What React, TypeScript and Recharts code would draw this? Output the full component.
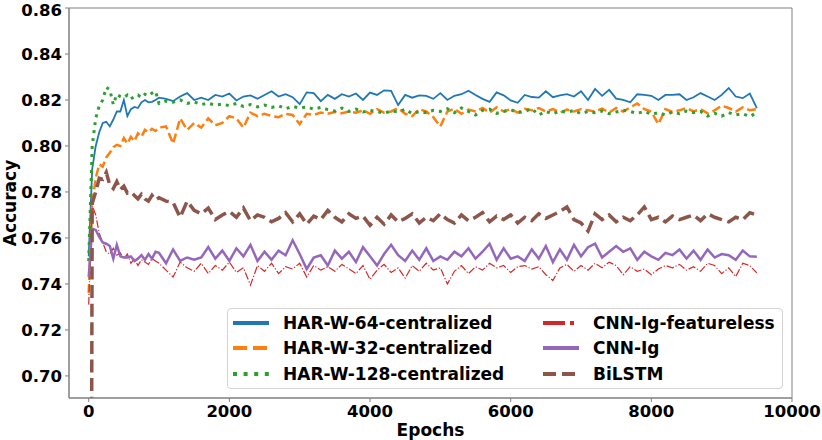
import { LineChart, Line, XAxis, YAxis, Legend, ReferenceArea, Label } from "recharts"

const epochs = [
  0, 50, 100, 150, 200, 250, 300, 350, 400, 450, 500, 550, 600, 650, 700, 750, 800, 850, 900, 950, 1000,
  1100, 1200, 1300, 1400, 1500, 1600, 1700, 1800, 1900, 2000,
  2100, 2200, 2300, 2400, 2500, 2600, 2700, 2800, 2900, 3000,
  3100, 3200, 3300, 3400, 3500, 3600, 3700, 3800, 3900, 4000,
  4100, 4200, 4300, 4400, 4500, 4600, 4700, 4800, 4900, 5000,
  5100, 5200, 5300, 5400, 5500, 5600, 5700, 5800, 5900, 6000,
  6100, 6200, 6300, 6400, 6500, 6600, 6700, 6800, 6900, 7000,
  7100, 7200, 7300, 7400, 7500, 7600, 7700, 7800, 7900, 8000,
  8100, 8200, 8300, 8400, 8500, 8600, 8700, 8800, 8900, 9000,
  9100, 9200, 9300, 9400, 9500,
]

const har64 = [
  0.752, 0.79, 0.8, 0.806, 0.81, 0.8105, 0.8085, 0.8115, 0.815, 0.815, 0.82, 0.813, 0.816, 0.817, 0.8165, 0.819, 0.82, 0.819, 0.8192, 0.82, 0.821,
  0.8205, 0.8195, 0.8215, 0.823, 0.82, 0.821, 0.82, 0.8222, 0.8215, 0.8228,
  0.8198, 0.8215, 0.822, 0.8205, 0.8222, 0.8238, 0.8215, 0.8225, 0.8212, 0.8182,
  0.8233, 0.823, 0.8195, 0.8222, 0.8205, 0.8225, 0.8215, 0.8228, 0.82, 0.8232,
  0.8222, 0.8242, 0.824, 0.8178, 0.8222, 0.821, 0.822, 0.8218, 0.8205, 0.823,
  0.82, 0.8218, 0.8225, 0.824, 0.8222, 0.8205, 0.8192, 0.8233, 0.822, 0.8198,
  0.8188, 0.8222, 0.8213, 0.821, 0.8238, 0.8212, 0.822, 0.8225, 0.8215, 0.8238,
  0.82, 0.8248, 0.8218, 0.8244, 0.8206, 0.82, 0.819, 0.8225, 0.8222, 0.8218,
  0.82, 0.8222, 0.8222, 0.8225, 0.82, 0.8212, 0.823, 0.8215, 0.82, 0.8222,
  0.8252, 0.8215, 0.8208, 0.8228, 0.8165,
]

const har32 = [
  0.736, 0.775, 0.786, 0.792, 0.791, 0.795, 0.797, 0.7995, 0.8005, 0.8, 0.8035, 0.801, 0.804, 0.802, 0.8055, 0.804, 0.807, 0.806, 0.8075, 0.8065, 0.808,
  0.8085, 0.801, 0.812, 0.807, 0.81, 0.808, 0.812, 0.809, 0.81, 0.813,
  0.812, 0.808, 0.8145, 0.813, 0.814, 0.813, 0.8125, 0.814, 0.8135, 0.8095,
  0.814, 0.8135, 0.8145, 0.814, 0.8148, 0.8142, 0.815, 0.8145, 0.8155, 0.814,
  0.816, 0.8145, 0.815, 0.8165, 0.814, 0.813, 0.816, 0.815, 0.8125, 0.8085,
  0.815, 0.8162, 0.814, 0.8158, 0.815, 0.8165, 0.8145, 0.8168, 0.815, 0.816,
  0.8145, 0.8162, 0.8155, 0.8165, 0.815, 0.816, 0.8145, 0.8158, 0.815, 0.816,
  0.8155, 0.815, 0.8162, 0.8145, 0.8165, 0.815, 0.8168, 0.8185, 0.816, 0.815,
  0.8095, 0.816, 0.8148, 0.8155, 0.8165, 0.815, 0.816, 0.8142, 0.8155, 0.8175,
  0.8165, 0.815, 0.8168, 0.8155, 0.816,
]

const har128 = [
  0.75, 0.8, 0.812, 0.8175, 0.82, 0.8255, 0.8245, 0.818, 0.8225, 0.8215, 0.821, 0.8222, 0.8205, 0.8215, 0.8222, 0.821, 0.8225, 0.8218, 0.823, 0.8238, 0.8185,
  0.8195, 0.819, 0.82, 0.8185, 0.8192, 0.818, 0.8186, 0.8178, 0.8182, 0.8175,
  0.8185, 0.8172, 0.818, 0.817, 0.8178, 0.8168, 0.8175, 0.8162, 0.8172, 0.8165,
  0.817, 0.816, 0.8168, 0.8158, 0.8152, 0.8165, 0.815, 0.816, 0.8148, 0.8155,
  0.815, 0.8142, 0.8152, 0.8148, 0.816, 0.814, 0.815, 0.8145, 0.8155, 0.815,
  0.8162, 0.8145, 0.8165, 0.815, 0.8135, 0.8155, 0.816, 0.8142, 0.815, 0.8158,
  0.8145, 0.815, 0.8162, 0.8135, 0.815, 0.814, 0.8152, 0.8146, 0.8155, 0.814,
  0.815, 0.8145, 0.8152, 0.814, 0.8148, 0.8155, 0.815, 0.8142, 0.815, 0.8138,
  0.8145, 0.8135, 0.8148, 0.814, 0.8152, 0.8145, 0.815, 0.813, 0.8142, 0.813,
  0.8145, 0.8135, 0.814, 0.8128, 0.8145,
]

const cnnIgFeatureless = [
  0.731, 0.774, 0.77, 0.762, 0.758, 0.754, 0.753, 0.7555, 0.7525, 0.7535, 0.751, 0.753, 0.749, 0.751, 0.748, 0.7505, 0.7495, 0.7485, 0.751, 0.75, 0.749,
  0.746, 0.743, 0.7495, 0.747, 0.7455, 0.749, 0.7445, 0.748, 0.746, 0.7495,
  0.745, 0.747, 0.7395, 0.748, 0.7455, 0.749, 0.7445, 0.7475, 0.7465, 0.749,
  0.743, 0.748, 0.746, 0.7475, 0.7455, 0.7485, 0.7465, 0.7445, 0.748, 0.742,
  0.746, 0.7485, 0.745, 0.747, 0.7425, 0.748, 0.7455, 0.749, 0.746, 0.747,
  0.74, 0.7455, 0.748, 0.7445, 0.7475, 0.746, 0.749, 0.747, 0.748, 0.745,
  0.7475, 0.748, 0.7465, 0.7475, 0.744, 0.7415, 0.747, 0.7485, 0.7455, 0.748,
  0.746, 0.749, 0.747, 0.7495, 0.748, 0.744, 0.7475, 0.7455, 0.7465, 0.744,
  0.7465, 0.748, 0.747, 0.7485, 0.746, 0.7475, 0.7455, 0.749, 0.748, 0.7445,
  0.747, 0.7432, 0.749, 0.748, 0.7448,
]

const cnnIg = [
  0.743, 0.764, 0.7635, 0.7605, 0.758, 0.7575, 0.7565, 0.751, 0.757, 0.752, 0.7515, 0.7515, 0.752, 0.75, 0.751, 0.7525, 0.7505, 0.753, 0.751, 0.754, 0.7535,
  0.749, 0.755, 0.75, 0.7515, 0.7505, 0.7515, 0.756, 0.751, 0.7545, 0.75,
  0.7555, 0.752, 0.757, 0.75, 0.754, 0.7505, 0.7545, 0.7525, 0.759, 0.753,
  0.7465, 0.7515, 0.7525, 0.748, 0.7545, 0.751, 0.754, 0.7495, 0.756, 0.752,
  0.748, 0.753, 0.757, 0.7525, 0.75, 0.7545, 0.7505, 0.7555, 0.75, 0.752,
  0.7505, 0.754, 0.752, 0.7555, 0.751, 0.754, 0.7575, 0.7505, 0.7555, 0.751,
  0.752, 0.75, 0.755, 0.751, 0.7565, 0.7495, 0.755, 0.7505, 0.757, 0.752,
  0.756, 0.7575, 0.7515, 0.754, 0.7565, 0.754, 0.7555, 0.7505, 0.754, 0.752,
  0.7505, 0.7535, 0.7525, 0.755, 0.751, 0.7545, 0.7505, 0.755, 0.7515, 0.753,
  0.7525, 0.7505, 0.7545, 0.752, 0.7518,
]

const biLstm = [
  0.2, 0.775, 0.78, 0.786, 0.7855, 0.7885, 0.783, 0.7815, 0.7845, 0.781, 0.7825, 0.7795, 0.78, 0.7785, 0.777, 0.779, 0.777, 0.776, 0.7785, 0.7765, 0.7775,
  0.776, 0.7755, 0.769, 0.776, 0.772, 0.7705, 0.773, 0.768, 0.77, 0.7715,
  0.769, 0.773, 0.7675, 0.77, 0.769, 0.767, 0.7685, 0.771, 0.767, 0.7705,
  0.766, 0.7695, 0.768, 0.772, 0.769, 0.767, 0.7705, 0.7685, 0.7695, 0.7655,
  0.769, 0.766, 0.77, 0.767, 0.7685, 0.7705, 0.7665, 0.769, 0.7675, 0.7705,
  0.768, 0.7665, 0.77, 0.7675, 0.769, 0.771, 0.767, 0.7695, 0.768, 0.77,
  0.7665, 0.769, 0.7675, 0.7705, 0.7685, 0.77, 0.7715, 0.7735, 0.768, 0.7665,
  0.763, 0.7705, 0.768, 0.77, 0.767, 0.769, 0.7675, 0.77, 0.7735, 0.768,
  0.769, 0.767, 0.7695, 0.768, 0.769, 0.77, 0.7675, 0.7705, 0.769, 0.768,
  0.767, 0.769, 0.768, 0.771, 0.77,
]

const xTicks = [0, 2000, 4000, 6000, 8000, 10000]
const yTicks = [0.7, 0.72, 0.74, 0.76, 0.78, 0.8, 0.82, 0.84, 0.86]

const data = epochs.map((epoch, i) => ({
  epoch,
  har64: har64[i],
  har32: har32[i],
  har128: har128[i],
  cnnIgFeatureless: cnnIgFeatureless[i],
  cnnIg: cnnIg[i],
  biLstm: biLstm[i],
}))

const FONT = "'DejaVu Sans', sans-serif"
const SPINE = "#808080"

const tickStyle = { fontFamily: FONT, fontWeight: "bold", fontSize: 16.5, fill: "#000" }

// name, colour, dash pattern for the legend handle
const legendItems = [
  { name: "HAR-W-64-centralized", color: "#1f77b4", dash: undefined, col: 0, row: 0 },
  { name: "HAR-W-32-centralized", color: "#ff7f0e", dash: "14 6", col: 0, row: 1 },
  { name: "HAR-W-128-centralized", color: "#2ca02c", dash: "4 6.6", col: 0, row: 2 },
  { name: "CNN-Ig-featureless", color: "#d62728", dash: "22 5 4 5", col: 1, row: 0 },
  { name: "CNN-Ig", color: "#9467bd", dash: undefined, col: 1, row: 1 },
  { name: "BiLSTM", color: "#8c564b", dash: "13 6", col: 1, row: 2 },
]

function LegendBox() {
  const rowY = [13.7, 39.3, 64.7]
  const handleX = [5, 315]
  const textX = [55, 365]
  return (
    <div
      style={{
        position: "relative",
        width: 556,
        height: 81,
        boxSizing: "border-box",
        border: "1px solid #d4d4d4",
        borderRadius: 4,
        background: "rgba(255,255,255,0.85)",
      }}
    >
      {legendItems.map((it) => (
        <div key={it.name}>
          <svg
            width={36}
            height={10}
            style={{ position: "absolute", left: handleX[it.col], top: rowY[it.row] - 5 }}
          >
            <line x1={0} y1={5} x2={36} y2={5} stroke={it.color} strokeWidth={4} strokeDasharray={it.dash} />
          </svg>
          <span
            style={{
              position: "absolute",
              left: textX[it.col],
              top: rowY[it.row] - 11,
              lineHeight: "22px",
              fontFamily: FONT,
              fontWeight: "bold",
              fontSize: 17,
              color: "#000",
              whiteSpace: "nowrap",
            }}
          >
            {it.name}
          </span>
        </div>
      ))}
    </div>
  )
}

export default function App() {
  return (
    <div style={{ position: "absolute", left: 0, top: 0, width: 822, height: 440, background: "#fff" }}>
      <LineChart width={822} height={440} data={data} margin={{ top: 8, right: 30, bottom: 0, left: 0 }}>
        <XAxis
          dataKey="epoch"
          type="number"
          domain={[-280, 10000]}
          ticks={xTicks}
          allowDataOverflow
          height={42}
          tickSize={4}
          tickMargin={3}
          stroke={SPINE}
          tick={tickStyle}
        >
          <Label
            content={() => (
              <text x={430.5} y={436} textAnchor="middle" fontFamily={FONT} fontWeight="bold" fontSize={17} fill="#000">
                Epochs
              </text>
            )}
          />
        </XAxis>
        <YAxis
          type="number"
          domain={[0.6904, 0.86]}
          ticks={yTicks}
          allowDataOverflow
          width={69}
          tickSize={4}
          tickMargin={3}
          stroke={SPINE}
          tick={tickStyle}
          tickFormatter={(v: number) => v.toFixed(2)}
        >
          <Label
            content={() => (
              <text
                x={16}
                y={203}
                transform="rotate(-90 16 203)"
                textAnchor="middle"
                fontFamily={FONT}
                fontWeight="bold"
                fontSize={17}
                fill="#000"
              >
                Accuracy
              </text>
            )}
          />
        </YAxis>
        <ReferenceArea x1={-280} x2={10000} y1={0.6904} y2={0.86} stroke={SPINE} fill="none" />
        <Line type="linear" dataKey="har64" stroke="#1f77b4" strokeWidth={1.8} dot={false} isAnimationActive={false} />
        <Line type="linear" dataKey="har32" stroke="#ff7f0e" strokeWidth={2.5} strokeDasharray="9 4" dot={false} isAnimationActive={false} />
        <Line type="linear" dataKey="har128" stroke="#2ca02c" strokeWidth={3} strokeDasharray="3 5" dot={false} isAnimationActive={false} />
        <Line type="linear" dataKey="cnnIgFeatureless" stroke="#d62728" strokeWidth={1.2} strokeDasharray="7.7 1.9 1.2 1.9" dot={false} isAnimationActive={false} />
        <Line type="linear" dataKey="cnnIg" stroke="#9467bd" strokeWidth={2.5} dot={false} isAnimationActive={false} />
        <Line type="linear" dataKey="biLstm" stroke="#8c564b" strokeWidth={3.5} strokeDasharray="13 5.6" dot={false} isAnimationActive={false} />
        <Legend
          layout="horizontal"
          verticalAlign="middle"
          align="center"
          wrapperStyle={{ left: 227, top: 308, width: 556, height: 81 }}
          content={() => <LegendBox />}
        />
      </LineChart>
    </div>
  )
}
